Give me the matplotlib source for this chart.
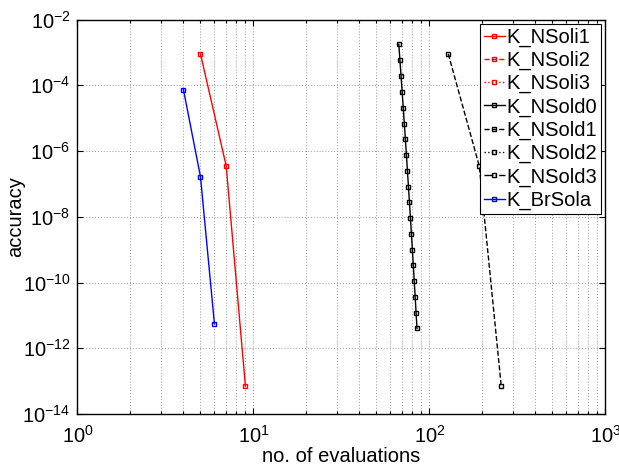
import matplotlib
matplotlib.use("Agg")
import matplotlib.pyplot as plt
from matplotlib.ticker import LogLocator, NullLocator, NullFormatter

plt.rcParams["font.family"] = ["Liberation Sans", "DejaVu Sans"]
plt.rcParams["mathtext.default"] = "regular"

# --- data --------------------------------------------------------------
nsoli1_x = [5, 7, 9]
nsoli1_y = [9e-4, 3.5e-7, 7e-14]

nsold0_x = [67, 68, 69, 70, 71, 72, 73, 74, 75, 76, 77, 78, 79, 80, 81, 82, 83, 84, 85]
nsold0_y = [1.77e-3, 5.7e-4, 1.9e-4, 6.3e-5, 2.1e-5, 6.8e-6, 2.3e-6, 7.7e-7,
            2.5e-7, 8.3e-8, 2.8e-8, 9.2e-9, 3.1e-9, 1.0e-9, 3.3e-10, 1.1e-10,
            3.6e-11, 1.2e-11, 4.0e-12]

nsold1_x = [128, 192, 256]
nsold1_y = [9e-4, 3.5e-7, 7e-14]

brsola_x = [4, 5, 6]
brsola_y = [7.4e-5, 1.65e-7, 5.5e-12]

# (label, x, y, colour, linestyle)
series = [
    ("K_NSoli1", nsoli1_x, nsoli1_y, "red", "-"),
    ("K_NSoli2", [], [], "red", "--"),
    ("K_NSoli3", [], [], "red", ":"),
    ("K_NSold0", nsold0_x, nsold0_y, "black", "-"),
    ("K_NSold1", nsold1_x, nsold1_y, "black", "--"),
    ("K_NSold2", [], [], "black", ":"),
    ("K_NSold3", [], [], "black", "-."),
    ("K_BrSola", brsola_x, brsola_y, "blue", "-"),
]

FS = 14.5

fig = plt.figure(figsize=(6.19, 4.66), dpi=100)
ax = fig.add_axes([0.1252, 0.1116, 0.8528, 0.8464])

for name, xs, ys, col, ls in series:
    ax.plot(xs, ys, color=col, linestyle=ls, linewidth=1.0, marker="s",
            markersize=3.5, markerfacecolor="none", markeredgewidth=1.0,
            label=name)

ax.set_xscale("log")
ax.set_yscale("log")
ax.set_xlim(1, 1000)
ax.set_ylim(1e-14, 1e-2)
ax.set_yticks([1e-14, 1e-12, 1e-10, 1e-8, 1e-6, 1e-4, 1e-2])
ax.yaxis.set_minor_locator(NullLocator())
ax.xaxis.set_minor_locator(LogLocator(base=10, subs=range(2, 10), numticks=20))
ax.xaxis.set_minor_formatter(NullFormatter())

ax.grid(True, which="major", color="0.6", linestyle=(0, (1, 2)), linewidth=0.7)
ax.grid(True, which="minor", axis="x", color="0.6", linestyle=(0, (1, 2)), linewidth=0.7)
ax.tick_params(which="both", direction="in", top=True, right=True,
               labelsize=FS, width=0.8)
ax.tick_params(which="major", length=4)
ax.tick_params(axis="x", which="major", pad=8)
ax.tick_params(axis="y", which="major", pad=5)
ax.tick_params(which="minor", length=2.5)
for sp in ax.spines.values():
    sp.set_linewidth(1.0)

ax.set_xlabel("no. of evaluations", fontsize=FS, labelpad=0)
ax.set_ylabel("accuracy", fontsize=FS, labelpad=-2)

leg = ax.legend(loc="upper right", bbox_to_anchor=(1.0, 1.0), fontsize=FS,
                fancybox=False, framealpha=1, edgecolor="black",
                borderaxespad=0.2, labelspacing=0.2, handlelength=1.0,
                handletextpad=0.1, borderpad=0.2)
leg.get_frame().set_linewidth(0.8)

fig.savefig("out.png", dpi=100)
